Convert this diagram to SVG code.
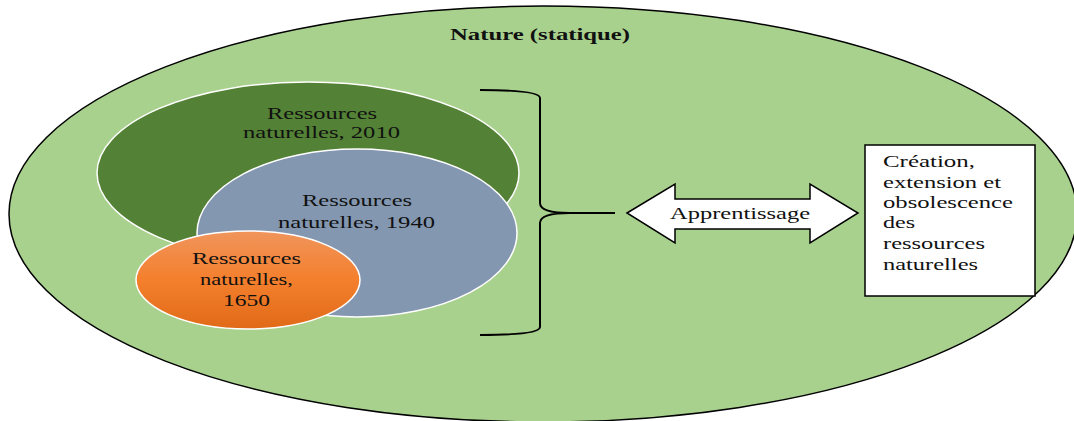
<svg xmlns="http://www.w3.org/2000/svg" width="1074" height="421" viewBox="0 0 1074 421">
<style>
.t{font-family:"Liberation Serif","Times New Roman",serif;font-size:16px;fill:#111}
.b{font-weight:bold}
.circ{stroke:#fff;stroke-width:1.5}
.ln{fill:none;stroke:#000;stroke-width:2}
</style>
<defs>
<linearGradient id="og" x1="0" y1="0" x2="0" y2="1">
<stop offset="0" stop-color="#F0955C"/>
<stop offset="0.5" stop-color="#F47F2C"/>
<stop offset="1" stop-color="#E06A18"/>
</linearGradient>
</defs>
<g id="nature">
<ellipse cx="543" cy="214" rx="534" ry="208" fill="#A9D18E" stroke="#000" stroke-width="1.5"/>
<text class="t b" x="450" y="40" textLength="180" lengthAdjust="spacingAndGlyphs">Nature (statique)</text>
</g>
<g id="res2010">
<ellipse class="circ" cx="308" cy="173" rx="211" ry="91" fill="#538135"/>
<text class="t" x="267" y="119" textLength="110" lengthAdjust="spacingAndGlyphs">Ressources</text>
<text class="t" x="243" y="138" textLength="157" lengthAdjust="spacingAndGlyphs">naturelles, 2010</text>
</g>
<g id="res1940">
<ellipse class="circ" cx="357" cy="233" rx="160" ry="84" fill="#8497B0"/>
<text class="t" x="302" y="206" textLength="110" lengthAdjust="spacingAndGlyphs">Ressources</text>
<text class="t" x="278" y="228" textLength="157" lengthAdjust="spacingAndGlyphs">naturelles, 1940</text>
</g>
<g id="res1650">
<ellipse class="circ" cx="248" cy="280" rx="112" ry="49" fill="url(#og)"/>
<text class="t" x="192" y="264" textLength="109" lengthAdjust="spacingAndGlyphs">Ressources</text>
<text class="t" x="200" y="285" textLength="93" lengthAdjust="spacingAndGlyphs">naturelles,</text>
<text class="t" x="223" y="306" textLength="47" lengthAdjust="spacingAndGlyphs">1650</text>
</g>
<g id="connectors">
<path class="ln" d="M480 90 Q540 90 540 98 L540 203 Q540 213 570 213 L615 213 M570 213 Q540 213 540 223 L540 327 Q540 335 480 335"/>
</g>
<g id="apprentissage">
<polygon points="627,213 675,184 675,199 810,199 810,184 858,213 810,243 810,229 675,229 675,243" fill="#fff" stroke="#000" stroke-width="1.5"/>
<text class="t" x="670" y="219" textLength="140" lengthAdjust="spacingAndGlyphs">Apprentissage</text>
</g>
<g id="creation">
<rect x="865" y="145" width="170" height="151" fill="#fff" stroke="#000" stroke-width="1.5"/>
<text class="t" x="883" y="167" textLength="92" lengthAdjust="spacingAndGlyphs">Création,</text>
<text class="t" x="883" y="188" textLength="118" lengthAdjust="spacingAndGlyphs">extension et</text>
<text class="t" x="883" y="208" textLength="130" lengthAdjust="spacingAndGlyphs">obsolescence</text>
<text class="t" x="883" y="228" textLength="32" lengthAdjust="spacingAndGlyphs">des</text>
<text class="t" x="883" y="249" textLength="102" lengthAdjust="spacingAndGlyphs">ressources</text>
<text class="t" x="883" y="270" textLength="95" lengthAdjust="spacingAndGlyphs">naturelles</text>
</g>
</svg>
